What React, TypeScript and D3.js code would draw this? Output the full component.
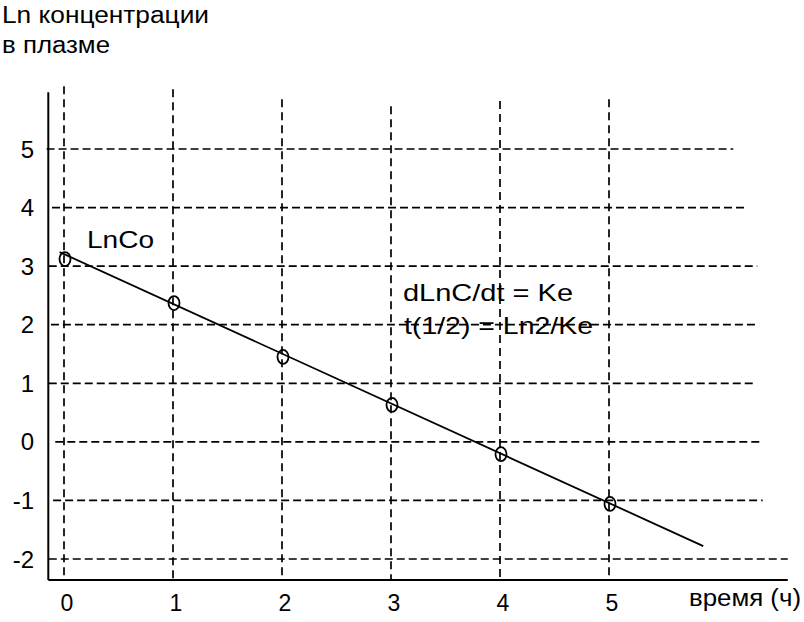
import React from "react";
import * as d3 from "d3";

// ---- data ----
const timeTicks = [0, 1, 2, 3, 4, 5];
const valueTicks = [5, 4, 3, 2, 1, 0, -1, -2];
const pointTimes = [0, 1, 2, 3, 4, 5];
const pointValues = [3.12, 2.37, 1.45, 0.63, -0.21, -1.06];
const fitLineTimes = [-0.04, 5.865];
const fitLineValues = [3.24, -1.78];
// hand-drawn grid extents (in data units)
const rowStarts = [-0.16, -0.11, -0.14, -0.12, -0.14, -0.08, -0.1, -0.14];
const rowEnds = [6.14, 6.25, 6.36, 6.36, 6.34, 6.41, 6.41, 6.64];
const colTops = [6.07, 6.02, 5.85, 5.73, 5.82, 5.85];
const yTitleLines = ["Ln концентрации", "в плазме"];
const xTitle = "время (ч)";
const startLabel = "LnCo";
const formulas = ["dLnC/dt = Ke", "t(1/2) = Ln2/Ke"];

const W = 804;
const H = 622;
const FONT = "'Liberation Sans', Arial, sans-serif";

export default function App() {
  const x = d3.scaleLinear().domain([0, 5]).range([64, 609]);
  const y = d3.scaleLinear().domain([-2, 5]).range([559, 149]);
  const axisT = -0.144;
  const axisBottom = -2.36;
  const axisTopV = 5.97;
  const axisRightT = 6.64;

  const line = d3
    .line<[number, number]>()
    .x((d) => x(d[0]))
    .y((d) => y(d[1]));
  const fitPts: [number, number][] = fitLineTimes.map((t, i) => [t, fitLineValues[i]]);

  return (
    <svg
      width={W}
      height={H}
      style={{ position: "absolute", left: 0, top: 0, background: "#fff" }}
      fontFamily={FONT}
    >
      <rect width={W} height={H} fill="#fff" />
      {/* horizontal dashed grid */}
      {valueTicks.map((v, i) => (
        <line
          key={"h" + v}
          x1={x(rowStarts[i])}
          x2={x(rowEnds[i])}
          y1={y(v)}
          y2={y(v)}
          stroke="#000"
          strokeWidth={1.7}
          strokeDasharray="8,4"
        />
      ))}
      {/* vertical dashed grid */}
      {timeTicks.map((t, i) => (
        <line
          key={"v" + t}
          x1={x(t)}
          x2={x(t)}
          y1={y(colTops[i])}
          y2={y(axisBottom)}
          stroke="#000"
          strokeWidth={1.7}
          strokeDasharray="8,5"
        />
      ))}
      {/* axes */}
      <line x1={x(axisT)} x2={x(axisT)} y1={y(axisTopV)} y2={y(axisBottom)} stroke="#000" strokeWidth={2} />
      <line x1={x(axisT)} x2={x(axisRightT)} y1={y(axisBottom)} y2={y(axisBottom)} stroke="#000" strokeWidth={2} />

      {/* fit line */}
      <path d={line(fitPts) || ""} fill="none" stroke="#000" strokeWidth={1.8} />
      {/* points */}
      {pointTimes.map((t, i) => (
        <ellipse
          key={"p" + t}
          cx={x(t) + 1}
          cy={y(pointValues[i])}
          rx={5.5}
          ry={7}
          fill="none"
          stroke="#000"
          strokeWidth={1.8}
        />
      ))}

      {/* y tick labels */}
      {valueTicks.map((v) => (
        <text key={"yl" + v} x={34} y={y(v)} dy="0.36em" textAnchor="end" fontSize={24} fill="#000">
          {v}
        </text>
      ))}
      {/* x tick labels */}
      {timeTicks.map((t) => (
        <text key={"xl" + t} x={x(t) + 3} y={611} textAnchor="middle" fontSize={23} fill="#000">
          {t}
        </text>
      ))}

      {/* titles */}
      <text x={2} y={23} fontSize={23} textLength={207} lengthAdjust="spacingAndGlyphs">
        {yTitleLines[0]}
      </text>
      <text x={2} y={53} fontSize={23} textLength={108} lengthAdjust="spacingAndGlyphs">
        {yTitleLines[1]}
      </text>
      <text x={689} y={606} fontSize={23} textLength={112} lengthAdjust="spacingAndGlyphs">
        {xTitle}
      </text>
      <text x={87} y={248} fontSize={24} textLength={67} lengthAdjust="spacingAndGlyphs">
        {startLabel}
      </text>
      <text x={403} y={301} fontSize={24} textLength={170} lengthAdjust="spacingAndGlyphs">
        {formulas[0]}
      </text>
      <text x={404} y={334} fontSize={24} textLength={189} lengthAdjust="spacingAndGlyphs">
        {formulas[1]}
      </text>
    </svg>
  );
}
